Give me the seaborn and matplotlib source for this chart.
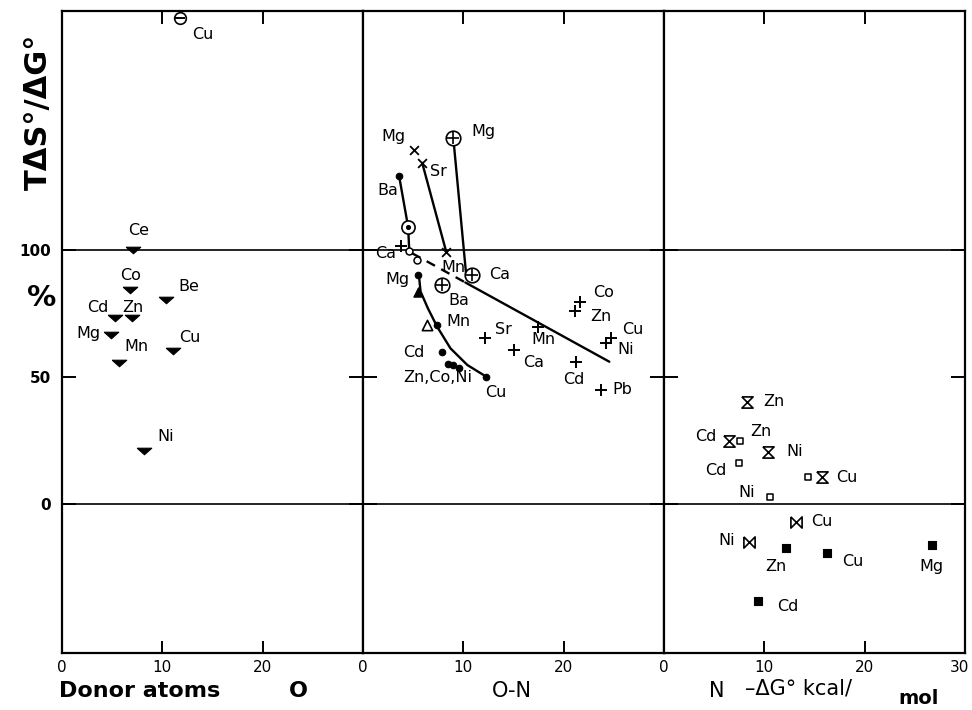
import numpy as np
import pandas as pd
import matplotlib
matplotlib.use("Agg")
import matplotlib.pyplot as plt
import matplotlib.transforms as mtransforms
import seaborn as sns

# ---------------- data ----------------
# Panel 1: donor atoms O  (filled down-triangles)
o_metal = ["Ce", "Co", "Be", "Cd", "Zn", "Mg", "Cu", "Mn", "Ni"]
o_dG = [7.1, 6.8, 10.4, 5.3, 7.0, 4.9, 11.1, 5.7, 8.2]
o_ratio = [100.0, 84.3, 80.3, 73.2, 73.2, 66.5, 60.2, 55.5, 20.9]
# Panel 1: circle with bar
ob_metal = ["Cu"]
ob_dG = [11.8]
ob_ratio = [191.3]

# Panel 2: donor atoms O-N
x_metal = ["Mg", "Sr", "Mn"]
x_dG = [5.1, 5.9, 8.3]
x_ratio = [139.4, 134.3, 99.2]

op_metal = ["Mg", "Ca", "Ba"]
op_dG = [9.0, 10.9, 7.9]
op_ratio = [144.1, 90.2, 86.2]

od_dG = [4.5]
od_ratio = [109.0]

dot_metal = ["Ba", "Mg", "Mn", "Cd", "Zn", "Co", "Ni", "Cu"]
dot_dG = [3.6, 5.5, 7.4, 7.9, 8.5, 9.0, 9.6, 12.3]
dot_ratio = [129.1, 90.2, 70.5, 59.8, 55.1, 54.7, 53.5, 50.0]

tri_dG = [5.5]
tri_ratio = [83.5]
otri_dG = [6.4]
otri_ratio = [70.5]

small_dG = [4.6, 5.4]
small_ratio = [99.6, 96.0]

plus_metal = ["Ca", "Sr", "Ca", "Mn", "Co", "Zn", "Cu", "Ni", "Cd", "Pb"]
plus_dG = [3.8, 12.2, 15.0, 17.4, 21.6, 21.1, 24.7, 24.2, 21.2, 23.7]
plus_ratio = [101.6, 65.4, 60.6, 69.7, 79.5, 76.0, 65.4, 63.4, 55.9, 44.9]

# trend lines in panel 2
ba_line_x = [3.6, 4.5, 4.6]
ba_line_y = [129.1, 109.0, 100.5]
sr_line_x = [5.9, 8.3]
sr_line_y = [134.3, 99.2]
mg_line_x = [9.0, 10.3]
mg_line_y = [144.1, 89.5]
main_dash_x = [4.9, 10.2]
main_dash_y = [98.7, 87.2]
main_solid_x = [10.2, 24.55]
main_solid_y = [87.2, 56.0]
curve_x = [5.6, 5.74, 6.47, 7.39, 8.71, 10.4, 12.0]
curve_y = [88.9, 83.6, 77.0, 69.8, 61.3, 54.7, 50.8]

# Panel 3: donor atoms N
hg_metal = ["Zn", "Cd", "Ni", "Cu"]
hg_dG = [8.3, 6.5, 10.4, 15.7]
hg_ratio = [40.2, 24.8, 20.5, 10.6]

osq_metal = ["Zn", "Cd", "Cu", "Ni"]
osq_dG = [7.6, 7.5, 14.4, 10.6]
osq_ratio = [24.8, 16.1, 10.6, 2.8]

bt_metal = ["Cu", "Ni"]
bt_dG = [13.2, 8.5]
bt_ratio = [-7.1, -14.9]

fsq_metal = ["Zn", "Cu", "Mg", "Cd"]
fsq_dG = [12.2, 16.2, 26.7, 9.4]
fsq_ratio = [-17.3, -19.3, -16.1, -38.2]

# ---------------- styling ----------------
sns.set_style("white")
plt.rcParams["font.family"] = ["DejaVu Sans"]
plt.rcParams["text.color"] = "black"
plt.rcParams["axes.labelcolor"] = "black"
plt.rcParams["xtick.color"] = "black"
plt.rcParams["ytick.color"] = "black"

W, H = 972, 710
fig = plt.figure(figsize=(W / 100, H / 100), dpi=100)
L, R, T, B = 62 / W, 965 / W, 1 - 11 / H, 1 - 653 / H
w = (R - L) / 3
axes = [fig.add_axes([L + i * w, B, w, T - B]) for i in range(3)]

YMIN, YMAX = -58.7, 194.1
LABEL_FS = 11.5

tri_down = [(-1, 0.45), (1, 0.45), (0, -0.45), (-1, 0.45)]
hourglass = [(-1, 1), (1, 1), (-1, -1), (1, -1), (-1, 1)]
bowtie = [(-1, 1), (-1, -1), (1, 1), (1, -1), (-1, 1)]


def filled(ax, x, y, marker, s, lw=0.8):
    sns.scatterplot(x=x, y=y, marker=marker, s=s, color="black",
                    edgecolor="black", linewidth=lw, ax=ax, zorder=4, legend=False)


def hollow(ax, x, y, marker, s, lw=1.2):
    sns.scatterplot(x=x, y=y, marker=marker, s=s, facecolor="white",
                    edgecolor="black", linewidth=lw, ax=ax, zorder=4, legend=False)


def line(ax, x, y, dashed=False):
    sns.lineplot(x=x, y=y, sort=False, estimator=None, color="black", lw=1.7,
                 ax=ax, zorder=2, legend=False, dashes=False)
    if dashed:
        ax.lines[-1].set_dashes([4, 3])


def labels(ax, x, y, names, offsets):
    for xi, yi, n, (dx, dy) in zip(x, y, names, offsets):
        if n:
            ax.annotate(n, (xi, yi), xytext=(dx, dy), textcoords="offset pixels",
                        ha="center", va="center", fontsize=LABEL_FS, zorder=5,
                        color="black")


for i, ax in enumerate(axes):
    ax.set_xlim(0, 30)
    ax.set_ylim(YMIN, YMAX)
    ax.axhline(100, color="black", lw=1.2, zorder=1)
    ax.axhline(0, color="black", lw=1.2, zorder=1)
    for sp in ax.spines.values():
        sp.set_visible(True)
        sp.set_color("black")
        sp.set_linewidth(1.6)
    xt = [0, 10, 20, 30] if i == 2 else [0, 10, 20]
    ax.set_xticks(xt)
    ax.set_xticklabels([str(v) for v in xt], fontsize=11)
    ax.set_yticks([0, 50, 100])
    if i == 0:
        ax.set_yticklabels(["0", "50", "100"], fontsize=11, fontweight="bold")
    else:
        ax.set_yticklabels([])
    ax.tick_params(axis="x", which="both", direction="in", length=9, width=1.4,
                   top=True, bottom=True, pad=5, colors="black")
    ax.tick_params(axis="y", which="both", direction="in", length=10, width=1.4,
                   left=True, right=True, pad=8, colors="black")
    ax.set_xlabel("")
    ax.set_ylabel("")

ax1, ax2, ax3 = axes
# nudge the final "30" inward so it stays within the picture
last = ax3.get_xticklabels()[-1]
last.set_transform(last.get_transform() + mtransforms.ScaledTranslation(-6 / 100, 0, fig.dpi_scale_trans))

# Panel 1
filled(ax1, o_dG, o_ratio, tri_down, 110)
labels(ax1, o_dG, o_ratio, o_metal,
       [(5, 19), (0, 14), (22, 14), (-17, 11), (1, 11), (-23, 2), (16, 14), (17, 16), (21, 14)])
hollow(ax1, ob_dG, ob_ratio, "o", 70)
filled(ax1, ob_dG, ob_ratio, "_", 60, lw=1.4)
labels(ax1, ob_dG, ob_ratio, ob_metal, [(22, -16)])

# Panel 2 lines
line(ax2, ba_line_x, ba_line_y)
line(ax2, sr_line_x, sr_line_y)
line(ax2, mg_line_x, mg_line_y)
line(ax2, main_dash_x, main_dash_y, dashed=True)
line(ax2, main_solid_x, main_solid_y)
line(ax2, curve_x, curve_y)

# Panel 2 markers
filled(ax2, x_dG, x_ratio, "x", 40, lw=1.3)
labels(ax2, x_dG, x_ratio, x_metal, [(-21, 13), (16, -9), (7, -15)])

hollow(ax2, op_dG, op_ratio, "o", 110)
filled(ax2, op_dG, op_ratio, "+", 70, lw=1.2)
labels(ax2, op_dG, op_ratio, op_metal, [(30, 6), (27, 0), (17, -15)])

hollow(ax2, od_dG, od_ratio, "o", 90)
filled(ax2, od_dG, od_ratio, "o", 8)

filled(ax2, dot_dG, dot_ratio, "o", 22)
labels(ax2, dot_dG, dot_ratio, ["Ba", "Mg", "Mn", "Cd", "", "Zn,Co,Ni", "", "Cu"],
       [(-11, -14), (-21, -5), (21, 3), (-28, 0), (0, 0), (-16, -12), (0, 0), (9, -16)])

filled(ax2, tri_dG, tri_ratio, "^", 45)
hollow(ax2, otri_dG, otri_ratio, "^", 55)
hollow(ax2, small_dG, small_ratio, "o", 25, lw=1.1)

filled(ax2, plus_dG, plus_ratio, "+", 75, lw=1.4)
labels(ax2, plus_dG, plus_ratio, plus_metal,
       [(-16, -8), (18, 8), (20, -12), (6, -13), (24, 10), (26, -6), (22, 8), (20, -7), (-2, -18), (22, 0)])

# Panel 3
hollow(ax3, hg_dG, hg_ratio, hourglass, 65, lw=1.2)
labels(ax3, hg_dG, hg_ratio, hg_metal, [(27, 0), (-23, 4), (26, 0), (25, 0)])
hollow(ax3, osq_dG, osq_ratio, "s", 22, lw=1.1)
labels(ax3, osq_dG, osq_ratio, ["Zn", "Cd", "", "Ni"], [(21, 9), (-23, -7), (0, 0), (-24, 4)])
hollow(ax3, bt_dG, bt_ratio, bowtie, 65, lw=1.2)
labels(ax3, bt_dG, bt_ratio, bt_metal, [(25, 0), (-23, 1)])
filled(ax3, fsq_dG, fsq_ratio, "s", 40)
labels(ax3, fsq_dG, fsq_ratio, fsq_metal, [(-11, -19), (26, -9), (0, -22), (29, -6)])

# ---------------- figure texts ----------------
fig.text(38 / W, 1 - 112 / H, "TΔS°/ΔG°", rotation=90, ha="center", va="center",
         fontsize=22, fontweight="bold")
fig.text(42 / W, 1 - 298 / H, "%", ha="center", va="center", fontsize=21, fontweight="bold")

fig.text(59 / W, 1 - 691 / H, "Donor atoms", ha="left", va="center", fontsize=16, fontweight="bold")
fig.text(298 / W, 1 - 691 / H, "O", ha="center", va="center", fontsize=16, fontweight="bold")
fig.text(512 / W, 1 - 691 / H, "O-N", ha="center", va="center", fontsize=15)
fig.text(717 / W, 1 - 691 / H, "N", ha="center", va="center", fontsize=15)
fig.text(745 / W, 1 - 689 / H, "–ΔG° kcal/", ha="left", va="center", fontsize=15)
fig.text(898 / W, 1 - 698 / H, "mol", ha="left", va="center", fontsize=14, fontweight="bold")

fig.savefig("out.png", dpi=100, facecolor="white")
